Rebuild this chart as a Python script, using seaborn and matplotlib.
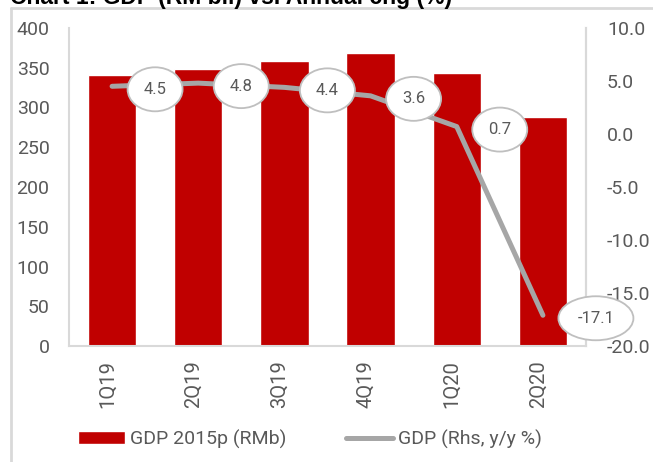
import matplotlib
matplotlib.use("Agg")
import matplotlib.pyplot as plt
from matplotlib.lines import Line2D
from matplotlib.patches import Ellipse
from matplotlib.transforms import IdentityTransform, ScaledTranslation
import seaborn as sns
import pandas as pd

quarters = ["1Q19", "2Q19", "3Q19", "4Q19", "1Q20", "2Q20"]
gdp_level = [341, 348, 359, 369, 343, 288]
gdp_growth = [4.5, 4.8, 4.4, 3.6, 0.7, -17.1]
left_ticks = [0, 50, 100, 150, 200, 250, 300, 350, 400]
right_ticks = [-20.0, -15.0, -10.0, -5.0, 0.0, 5.0, 10.0]
bar_label = "GDP 2015p (RMb)"
line_label = "GDP (Rhs, y/y %)"
title = "Chart 1: GDP (RM bil) vs. Annual chg (%)"

sns.set_theme(style="white")
plt.rcParams["font.family"] = ["Roboto", "DejaVu Sans"]

RED = "#C00000"
GREY = "#A6A6A6"
TXT = "#595959"
SPINE = "#D9D9D9"

W, H = 653, 462
fig = plt.figure(figsize=(W / 100, H / 100), dpi=100)
ax = fig.add_axes([69 / W, (H - 346) / H, (586 - 69) / W, (346 - 28) / H])

df = pd.DataFrame({"quarter": quarters, "level": gdp_level, "growth": gdp_growth})

sns.barplot(data=df, x="quarter", y="level", color=RED, width=0.56,
            saturation=1, ax=ax, label=bar_label)
ax.set_ylim(0, 400)
ax.set_yticks(left_ticks)
ax.set_xlim(-0.5, 5.5)
ax.set_xlabel("")
ax.set_ylabel("")

ax2 = ax.twinx()
sns.lineplot(data=df, x="quarter", y="growth", color=GREY, linewidth=3.6,
             sort=False, ax=ax2, label=line_label, legend=False)
for l in ax2.get_lines():
    l.set_solid_capstyle("round")
    l.set_solid_joinstyle("round")
ax2.set_ylim(-20, 10)
ax2.set_yticks(right_ticks)
ax2.set_yticklabels([f"{v:.1f}" for v in right_ticks])
ax2.set_xlim(-0.5, 5.5)
ax2.set_xlabel("")
ax2.set_ylabel("")

# data labels in ellipses (sizes in pixels)
for i, v in enumerate(gdp_growth):
    s = f"{v:.1f}"
    dx = 28 + 5 * len(s)
    dy = -3
    px, py = ax2.transData.transform((i, v))
    ell = Ellipse((px + dx, py + dy), width=25 + 10 * len(s), height=44,
                  transform=IdentityTransform(), facecolor="white",
                  edgecolor="#BFBFBF", linewidth=1.3, zorder=5)
    fig.add_artist(ell)
    fig.text((px + dx) / W, (py + dy) / H, s, ha="center", va="center",
             fontsize=12, color=TXT, zorder=6)

for a in (ax, ax2):
    a.spines["top"].set_visible(False)
    for side in ("left", "right", "bottom"):
        a.spines[side].set_color(SPINE)
        a.spines[side].set_linewidth(1.5)
ax2.spines["left"].set_visible(False)
ax2.spines["bottom"].set_visible(False)

ax.tick_params(axis="y", labelsize=14, labelcolor=TXT, length=0, pad=14)
ax.tick_params(axis="x", labelsize=14.5, labelcolor=TXT, length=0, pad=10)
ax2.tick_params(axis="y", labelsize=14, labelcolor=TXT, length=0, pad=15)
ax.set_xticks(range(len(quarters)))
ax.set_xticklabels(quarters, rotation=90, va="top", ha="center")
shift = ScaledTranslation(-5 / 100, 0, fig.dpi_scale_trans)
for lab in ax.get_xticklabels():
    lab.set_transform(lab.get_transform() + shift)

# legend
h1, l1 = ax.get_legend_handles_labels()
line_handle = Line2D([0], [0], color=GREY, lw=3.6, solid_capstyle="round")
leg = fig.legend([h1[0], line_handle], [bar_label, line_label], ncol=2,
                 loc="center left", bbox_to_anchor=(78 / W, 23 / H),
                 frameon=False, fontsize=14, handlelength=2.4,
                 handletextpad=0.25, columnspacing=3.1, borderpad=0,
                 borderaxespad=0)
for t in leg.get_texts():
    t.set_color(TXT)
if ax.get_legend() is not None:
    ax.get_legend().remove()

# outer frame (left & top) and title cropped at the top like the reference
fig.add_artist(Line2D([10.5 / W, 10.5 / W], [0, 1 - 8 / H], color=SPINE,
                      lw=2, transform=fig.transFigure))
fig.add_artist(Line2D([10.5 / W, 1], [1 - 8 / H, 1 - 8 / H], color=SPINE,
                      lw=2, transform=fig.transFigure))
fig.text(10 / W, 1 - 4 / H, title, fontsize=16.5, fontweight="bold",
         color="black", ha="left", va="baseline",
         family=["Liberation Sans", "DejaVu Sans"])

fig.savefig("out.png", dpi=100)
